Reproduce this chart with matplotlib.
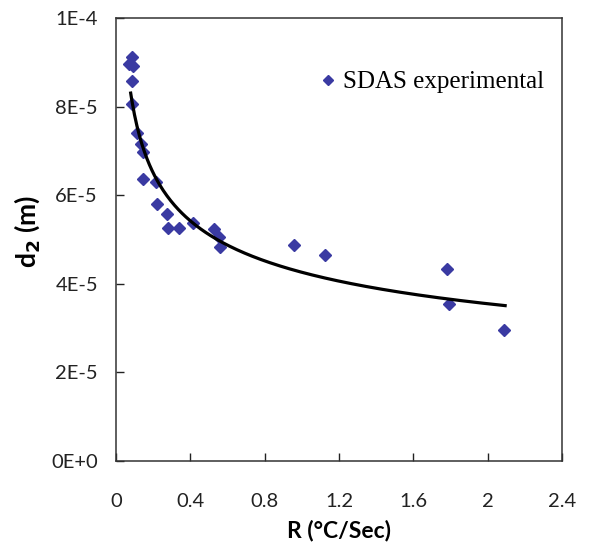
import numpy as np
import matplotlib.pyplot as plt
from matplotlib.ticker import FuncFormatter

# cooling rate R (degC/s) and measured SDAS d2 (m)
rate = [0.086, 0.070, 0.091, 0.086, 0.086, 0.111, 0.133, 0.144, 0.147, 0.215,
        0.222, 0.276, 0.280, 0.337, 0.413, 0.527, 0.554, 0.560, 0.960, 1.127,
        1.780, 1.790, 2.087]
sdas = [9.13e-5, 8.96e-5, 8.92e-5, 8.58e-5, 8.06e-5, 7.40e-5, 7.16e-5, 6.98e-5,
        6.37e-5, 6.30e-5, 5.80e-5, 5.58e-5, 5.26e-5, 5.26e-5, 5.37e-5, 5.24e-5,
        5.06e-5, 4.84e-5, 4.87e-5, 4.65e-5, 4.34e-5, 3.54e-5, 2.96e-5]

# power trendline d2 = A * R^B
fit_a = 4.26e-5
fit_b = -0.263
fit_range = [0.079, 2.094]

x_ticks = [0, 0.4, 0.8, 1.2, 1.6, 2.0, 2.4]
y_ticks = [0, 2e-5, 4e-5, 6e-5, 8e-5, 1e-4]

plt.rcParams['font.family'] = 'Lato'

fig = plt.figure(figsize=(5.94, 5.47), dpi=100)
ax = fig.add_axes([116 / 594, 1 - 461 / 547, (562 - 116) / 594, (461 - 18) / 547])

ax.plot(rate, sdas, linestyle='none', marker='D', markersize=5.8,
        color='#3a3aa2', label='SDAS experimental')

xf = np.linspace(fit_range[0], fit_range[1], 300)
ax.plot(xf, fit_a * xf ** fit_b, color='black', linewidth=2.3)

ax.set_xlim(0, 2.4)
ax.set_ylim(0, 1e-4)
ax.set_xticks(x_ticks)
ax.set_yticks(y_ticks)


def excel_sci(v, pos):
    # Excel style "0E+0" labels
    if v == 0:
        return '0E+0'
    exp = int(np.floor(np.log10(abs(v)) + 1e-9))
    mant = v / 10 ** exp
    if exp >= 0:
        return f'{mant:.0f}E+{exp}'
    return f'{mant:.0f}E{exp}'


ax.yaxis.set_major_formatter(FuncFormatter(excel_sci))
ax.xaxis.set_major_formatter(FuncFormatter(lambda v, p: f'{v:g}'))

ax.tick_params(direction='in', length=6, width=1, labelsize=14.5, colors='#222222',
               top=False, right=False)
ax.tick_params(axis='x', pad=23)
ax.tick_params(axis='y', pad=13)
for s in ax.spines.values():
    s.set_linewidth(1.1)
    s.set_color('#333333')

ax.set_xlabel('R (°C/Sec)', fontsize=16.5, fontweight='bold')
ax.set_ylabel(r'd$_\mathbf{2}$ (m)', fontsize=19, fontweight='bold')
ax.xaxis.set_label_coords(0.5, -0.133)
ax.yaxis.set_label_coords(-0.166, 0.517)

ax.legend(loc='center left', bbox_to_anchor=(0.4585, 0.8555), frameon=False,
          prop={'family': 'Liberation Serif', 'size': 18}, handlelength=0.6,
          handletextpad=0.3, borderpad=0, borderaxespad=0, markerscale=0.8)

fig.savefig('out.png', dpi=100)
